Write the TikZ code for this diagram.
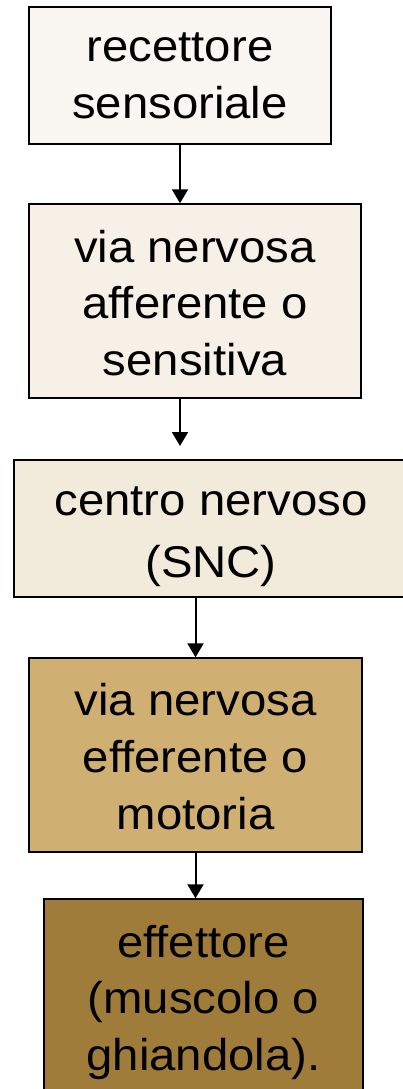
\documentclass[tikz,border=0pt]{standalone}
\usepackage{fontspec}
\setmainfont[FakeStretch=1.063]{Liberation Sans}
\usetikzlibrary{positioning,arrows.meta}

\definecolor{recettcol}{HTML}{FAF7F2}
\definecolor{afferecol}{HTML}{F7F0E6}
\definecolor{centrocol}{HTML}{F2EADB}
\definecolor{efferecol}{HTML}{CFAF72}
\definecolor{effetcol}{HTML}{A07C3A}

% first line raised by #1, last line lowered by #2
\newcommand\padtext[3]{\rule{0pt}{#1pt}#3\rule[-#2pt]{0pt}{#2pt}}

\begin{document}
\begin{tikzpicture}[x=1pt,y=-1pt,
	every node/.style={draw=black,line width=1.4pt,inner sep=0pt,align=center},
	flow/.style={-{Triangle[width=16pt,length=14pt]},line width=2pt}]
			\useasboundingbox (0,0) rectangle (403,1089);

			\node[fill=recettcol,minimum width=302pt,minimum height=137pt,font=\fontsize{44.5}{57}\selectfont] (n1) at (180,75.5) {\padtext{40}{10}{recettore\\sensoriale}};
			\node[fill=afferecol,minimum width=332pt,minimum height=194pt,font=\fontsize{44.5}{56.5}\selectfont] (n2) at (195,301) {\padtext{45}{10}{via nervosa\\afferente o\\sensitiva}};
			\node[fill=centrocol,minimum width=394pt,minimum height=137pt,font=\fontsize{44.5}{62}\selectfont] (n3) at (211,528.5) {\padtext{45}{10}{centro nervoso\\(SNC)}};
			\node[fill=efferecol,minimum width=333pt,minimum height=194pt,font=\fontsize{44.5}{57}\selectfont] (n4) at (195.5,755) {\padtext{44}{10}{via nervosa\\efferente o\\motoria}};
			\node[fill=effetcol,minimum width=319pt,minimum height=194pt,font=\fontsize{44.5}{56.5}\selectfont] (n5) at (203.5,996) {\padtext{45}{10}{effettore\\(muscolo o\\ghiandola).}};
			\coordinate (a2) at (180,446);

			\draw[flow] (n1) -- (n1 |- n2.north);
			\draw[flow] (n2.south -| n1) -- (a2);
			\draw[flow] (n4 |- n3.south) -- (n4);
			\draw[flow] (n4) -- (n4 |- n5.north);
		\end{tikzpicture}
\end{document}
